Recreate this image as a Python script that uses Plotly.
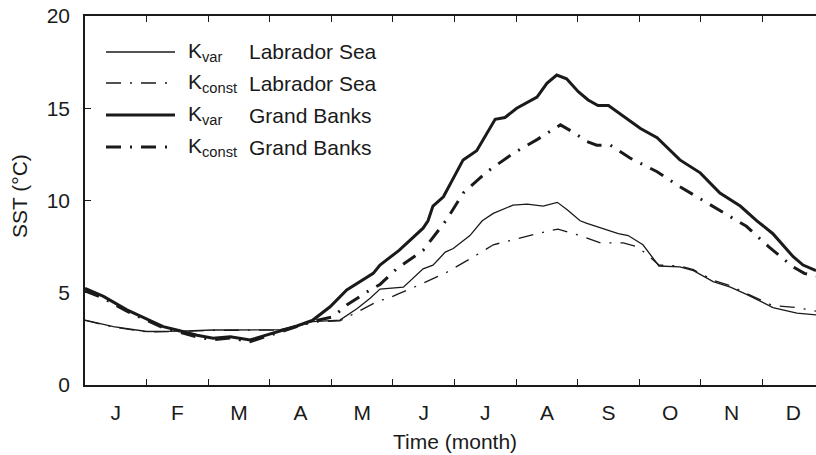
import plotly.graph_objects as go

# ---- data (time in months from 1 Jan, SST in degC) ----
month_labels = ["J", "F", "M", "A", "M", "J", "J", "A", "S", "O", "N", "D"]

t_kvar_gb = [0, 0.30, 0.68, 1.00, 1.27, 1.49, 1.82, 2.08, 2.36, 2.68, 2.87, 3.17, 3.44, 3.70, 3.98,
             4.25, 4.52, 4.68, 4.79, 5.10, 5.49, 5.57, 5.65, 5.82, 6.14, 6.36, 6.66, 6.82, 7.01, 7.34,
             7.50, 7.66, 7.82, 8.01, 8.17, 8.33, 8.50, 9.02, 9.29, 9.66, 9.99, 10.31, 10.64, 10.91,
             11.17, 11.50, 11.66, 11.87]
sst_kvar_gb = [5.24, 4.80, 4.07, 3.60, 3.16, 2.98, 2.70, 2.53, 2.62, 2.44, 2.62, 2.93, 3.20, 3.52, 4.24,
               5.15, 5.70, 6.05, 6.50, 7.30, 8.50, 8.90, 9.70, 10.20, 12.20, 12.70, 14.40, 14.50, 15.00, 15.60,
               16.35, 16.80, 16.60, 15.90, 15.45, 15.15, 15.15, 13.90, 13.40, 12.20, 11.50, 10.40, 9.70, 8.90,
               8.20, 6.95, 6.50, 6.20]

t_kconst_gb = [0, 0.30, 0.68, 1.00, 1.27, 1.49, 1.82, 2.08, 2.36, 2.68, 2.87, 3.17, 3.44, 3.70, 4.03,
               4.25, 4.63, 4.79, 5.06, 5.49, 5.87, 6.14, 6.53, 6.95, 7.34, 7.72, 7.93, 8.15, 8.31, 8.53,
               8.85, 9.29, 9.66, 10.04, 10.31, 10.48, 10.74, 11.10, 11.50, 11.68, 11.87]
sst_kconst_gb = [5.10, 4.70, 4.00, 3.50, 3.10, 2.90, 2.60, 2.45, 2.55, 2.35, 2.55, 2.85, 3.15, 3.45, 3.70,
                 4.34, 5.15, 5.45, 6.30, 7.30, 8.95, 10.40, 11.56, 12.55, 13.30, 14.10, 13.70, 13.20, 13.00, 13.00,
                 12.30, 11.56, 10.75, 10.00, 9.45, 9.10, 8.60, 7.50, 6.40, 6.05, 5.90]

t_kvar_ls = [0, 0.46, 1.00, 1.55, 2.08, 2.63, 3.17, 3.70, 4.14, 4.42, 4.63, 4.79, 5.00, 5.17, 5.49,
             5.65, 5.85, 5.98, 6.25, 6.45, 6.63, 6.95, 7.18, 7.44, 7.67, 7.83, 8.04, 8.15, 8.66, 8.82,
             9.06, 9.32, 9.66, 9.88, 10.20, 10.48, 10.75, 11.17, 11.56, 11.87]
sst_kvar_ls = [3.52, 3.16, 2.90, 2.92, 2.98, 3.00, 3.00, 3.43, 3.52, 4.15, 4.70, 5.20, 5.25, 5.30, 6.30,
               6.50, 7.20, 7.40, 8.10, 8.90, 9.30, 9.75, 9.80, 9.70, 9.90, 9.50, 8.90, 8.76, 8.20, 8.10,
               7.60, 6.45, 6.40, 6.20, 5.60, 5.30, 4.90, 4.20, 3.90, 3.80]

t_kconst_ls = [0, 0.46, 1.00, 1.55, 2.08, 2.63, 3.17, 3.70, 4.14, 4.42, 4.63, 4.79, 4.90, 5.06, 5.41,
               5.87, 6.36, 6.63, 7.34, 7.68, 8.04, 8.37, 8.74, 8.96, 9.12, 9.32, 9.66, 9.88, 10.20, 10.48,
               10.75, 11.17, 11.56, 11.87]
sst_kconst_ls = [3.50, 3.14, 2.88, 2.90, 2.96, 2.98, 2.98, 3.40, 3.48, 3.95, 4.30, 4.60, 4.65, 4.90, 5.40,
                 6.10, 7.05, 7.60, 8.20, 8.45, 8.10, 7.70, 7.70, 7.50, 7.10, 6.50, 6.45, 6.25, 5.68, 5.38,
                 4.95, 4.30, 4.20, 4.00]

legend_k = ["K<sub>var</sub>", "K<sub>const</sub>", "K<sub>var</sub>", "K<sub>const</sub>"]
legend_region = ["Labrador Sea", "Labrador Sea", "Grand Banks", "Grand Banks"]

# ---- styling ----
INK = "#1a1a1a"
FONT = "Liberation Sans, Arial, sans-serif"
FS = 21
DASHDOT = "15px,9px,2px,9px"
styles = [
    dict(width=1.3, dash="solid"),
    dict(width=1.3, dash=DASHDOT),
    dict(width=3.0, dash="solid"),
    dict(width=3.0, dash=DASHDOT),
]
series = [
    (t_kvar_ls, sst_kvar_ls),
    (t_kconst_ls, sst_kconst_ls),
    (t_kvar_gb, sst_kvar_gb),
    (t_kconst_gb, sst_kconst_gb),
]

fig = go.Figure()
for (tx, vy), st, k, reg in zip(series, styles, legend_k, legend_region):
    fig.add_trace(go.Scatter(x=tx, y=vy, mode="lines", showlegend=False,
                             name=f"{k} {reg}",
                             line=dict(color=INK, width=st["width"], dash=st["dash"])))

# secondary x axis carrying the month labels (centred in each month)
fig.add_trace(go.Scatter(x=[0.5], y=[-10], xaxis="x2", mode="markers",
                         marker=dict(opacity=0), showlegend=False, hoverinfo="skip"))

X_END = 11.87
fig.update_layout(
    width=816, height=455,
    margin=dict(l=85, r=0, t=16, b=70),
    paper_bgcolor="white", plot_bgcolor="white",
    font=dict(family=FONT, size=FS, color=INK),
    xaxis=dict(range=[0, X_END], tickvals=list(range(1, 12)), showticklabels=False,
               ticks="inside", ticklen=6, tickwidth=1.2, tickcolor=INK,
               showline=True, linecolor=INK, linewidth=1.5, mirror="ticks",
               showgrid=False, zeroline=False),
    xaxis2=dict(range=[0, X_END], overlaying="x", side="bottom", anchor="y",
                tickvals=[i + 0.5 for i in range(12)], ticktext=month_labels,
                ticks="", showline=False, showgrid=False, zeroline=False,
                ticklabelstandoff=13, tickfont=dict(size=FS, family=FONT, color=INK)),
    yaxis=dict(range=[0, 20], tickvals=[0, 5, 10, 15, 20],
               ticks="inside", ticklen=6, tickwidth=1.2, tickcolor=INK,
               showline=True, linecolor=INK, linewidth=1.5,
               showgrid=False, zeroline=False, ticklabelstandoff=9),
)

# axis titles
fig.add_annotation(text="Time (month)", xref="paper", yref="paper",
                   x=(455 - 85) / 731, y=-(441 - 385) / 369, showarrow=False,
                   xanchor="center", yanchor="middle", font=dict(size=FS))
fig.add_annotation(text="SST (°C)", xref="paper", yref="paper",
                   x=-(85 - 19) / 731, y=(385 - 196) / 369, showarrow=False, textangle=-90,
                   xanchor="center", yanchor="middle", font=dict(size=FS))

# legend (drawn inside the plot, upper left)
row_y = [52, 83, 115, 147]
for py, st, k, reg in zip(row_y, styles, legend_k, legend_region):
    yy = (385 - py) / 369
    fig.add_shape(type="line", xref="paper", yref="paper",
                  x0=(106 - 85) / 731, x1=(175 - 85) / 731, y0=yy, y1=yy,
                  line=dict(color=INK, width=st["width"], dash=st["dash"]))
    fig.add_annotation(text=k, xref="paper", yref="paper", x=(186 - 85) / 731, y=yy,
                       showarrow=False, xanchor="left", yanchor="middle", font=dict(size=FS))
    fig.add_annotation(text=reg, xref="paper", yref="paper", x=(247 - 85) / 731, y=yy,
                       showarrow=False, xanchor="left", yanchor="middle", font=dict(size=FS))

fig.write_html("out.html")
